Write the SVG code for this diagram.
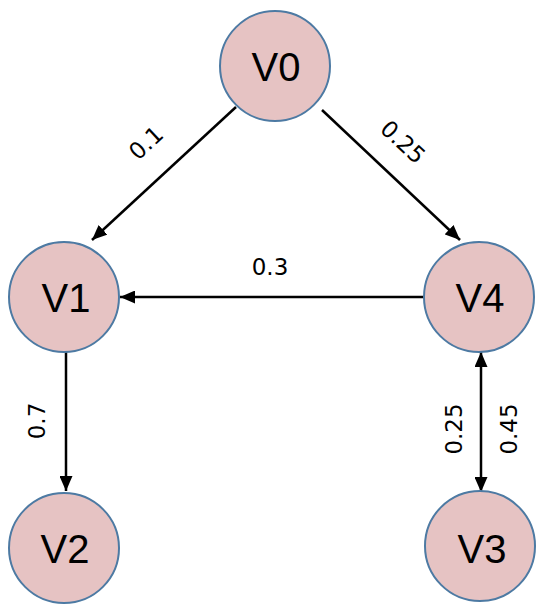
<svg xmlns="http://www.w3.org/2000/svg" width="550" height="613" viewBox="0 0 550 613">
<defs>
<marker id="ah" viewBox="0 0 15 13" refX="15" refY="6.5" markerWidth="15" markerHeight="13" orient="auto-start-reverse" markerUnits="userSpaceOnUse">
<path d="M0,0 L15,6.5 L0,13 z" fill="#000"/>
</marker>
</defs>
<style>
.node circle{fill:#e6c3c3;stroke:#4d7aa3;stroke-width:2}
.node text{font-family:"Liberation Sans",Arial,sans-serif;font-size:40px;fill:#000;text-anchor:middle;dominant-baseline:central}
.edge{stroke:#000;stroke-width:2.5;fill:none;marker-end:url(#ah)}
.lbl{font-family:"DejaVu Sans",sans-serif;font-size:23px;fill:#000;text-anchor:middle;dominant-baseline:central}
</style>
<rect width="550" height="613" fill="#fff"/>
<g id="connectors">
<line class="edge" x1="236" y1="107" x2="92" y2="240"/>
<line class="edge" x1="322" y1="110" x2="460" y2="240"/>
<line class="edge" x1="424" y1="297" x2="120" y2="297"/>
<line class="edge" x1="66" y1="352" x2="66" y2="491"/>
<line class="edge" x1="481" y1="352" x2="481" y2="492" style="marker-start:url(#ah)"/>
<text class="lbl" transform="translate(146,143) rotate(-43)">0.1</text>
<text class="lbl" transform="translate(403,142) rotate(43)">0.25</text>
<text class="lbl" x="270" y="267">0.3</text>
<text class="lbl" transform="translate(37,421) rotate(-90)">0.7</text>
<text class="lbl" transform="translate(454,429) rotate(-90)">0.25</text>
<text class="lbl" transform="translate(509,429) rotate(-90)">0.45</text>
</g>
<g id="V0" class="node"><circle cx="275" cy="66" r="55"/><text x="276" y="67">V0</text></g>
<g id="V1" class="node"><circle cx="64" cy="297" r="55"/><text x="66" y="298">V1</text></g>
<g id="V4" class="node"><circle cx="479" cy="297" r="55"/><text x="480" y="298">V4</text></g>
<g id="V2" class="node"><circle cx="64" cy="548" r="55"/><text x="65" y="549">V2</text></g>
<g id="V3" class="node"><circle cx="480" cy="546" r="55"/><text x="482" y="549">V3</text></g>
</svg>
